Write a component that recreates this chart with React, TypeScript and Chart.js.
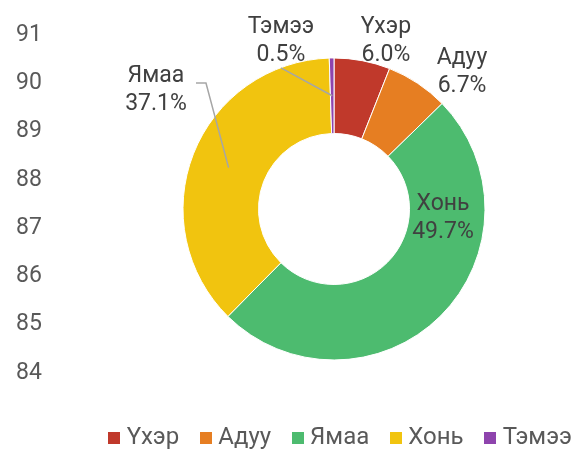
import React, { useEffect, useRef } from "react";
import { Chart, registerables } from "chart.js";

Chart.register(...registerables);

// ---- data ----
const categories = ["Үхэр", "Адуу", "Ямаа", "Хонь", "Тэмээ"];
const shares = [6.0, 6.7, 49.7, 37.1, 0.5];
const sliceNames = ["Үхэр", "Адуу", "Хонь", "Ямаа", "Тэмээ"];
const yTicks = [84, 85, 86, 87, 88, 89, 90, 91];
const colors = ["#C0392B", "#E67E22", "#4DBB6F", "#F1C40F", "#8E44AD"];

// ---- label placement (outer-radius units from the doughnut centre; leader points in px from label centre) ----
const labelLayout: { dx: number; dy: number; leader: number[][] | null }[] = [
  { dx: 0.344, dy: -1.136, leader: null },
  { dx: 0.848, dy: -0.934, leader: null },
  { dx: 0.722, dy: 0.036, leader: null },
  { dx: -1.179, dy: -0.815, leader: [[40, -3], [50, -3]] },
  { dx: -0.351, dy: -1.136, leader: [[0, 30.5]] },
];

const FONT = "Roboto";
const TEXT_SHIFT = 4;

function square(color: string) {
  const c = document.createElement("canvas");
  c.width = 12;
  c.height = 12;
  const g = c.getContext("2d")!;
  g.fillStyle = color;
  g.fillRect(0, 0, 12, 12);
  return c;
}

const sliceLabels = {
  id: "sliceLabels",
  afterDatasetsDraw(chart: any) {
    const ctx = chart.ctx;
    const meta = chart.getDatasetMeta(0);
    meta.data.forEach((arc: any, i: number) => {
      const { x, y, outerRadius } = arc.getProps(["x", "y", "outerRadius"], true);
      const lay = labelLayout[i];
      const cx = x + lay.dx * outerRadius;
      const cy = y + lay.dy * outerRadius;
      if (lay.leader) {
        const c = arc.getCenterPoint(true);
        ctx.save();
        ctx.strokeStyle = "#A6A6A6";
        ctx.lineWidth = 1.5;
        ctx.beginPath();
        lay.leader.forEach(([ox, oy], k) => {
          if (k === 0) ctx.moveTo(cx + ox, cy + oy);
          else ctx.lineTo(cx + ox, cy + oy);
        });
        ctx.lineTo(c.x, c.y);
        ctx.stroke();
        ctx.restore();
      }
      ctx.save();
      ctx.font = `23px ${FONT}`;
      ctx.fillStyle = "#404040";
      ctx.textAlign = "center";
      ctx.textBaseline = "middle";
      ctx.fillText(sliceNames[i], cx, cy - 14 + TEXT_SHIFT);
      ctx.fillText(shares[i].toFixed(1) + "%", cx, cy + 14 + TEXT_SHIFT);
      ctx.restore();
    });
  },
};

export default function App() {
  const ref = useRef<HTMLCanvasElement | null>(null);

  useEffect(() => {
    if (!ref.current) return;
    Chart.defaults.font.family = FONT;
    const chart = new Chart(ref.current, {
      type: "doughnut",
      data: {
        labels: categories,
        datasets: [
          {
            data: shares,
            backgroundColor: colors,
            borderColor: "#ffffff",
            borderWidth: 1,
            radius: 151,
            cutout: "50%",
          } as any,
        ],
      },
      options: {
        responsive: false,
        animation: false,
        layout: { padding: { left: 16, top: 18, right: -10, bottom: -11 } },
        scales: {
          y: {
            type: "linear",
            position: "left",
            min: 83.441,
            max: 91.352,
            grid: { display: false },
            border: { display: false },
            ticks: {
              font: { size: 23, family: FONT },
              color: "#595959",
              crossAlign: "far",
              padding: 0,
            },
            afterBuildTicks: (s: any) => {
              s.ticks = yTicks.map((v) => ({ value: v }));
            },
            afterFit: (s: any) => {
              s.width = 64;
              s.paddingTop = 0;
              s.paddingBottom = 0;
            },
          } as any,
        },
        plugins: {
          legend: {
            position: "bottom",
            align: "end",
            labels: {
              font: { size: 24, family: FONT },
              color: "#595959",
              usePointStyle: true,
              pointStyleWidth: 1,
              padding: 26,
              generateLabels: (ch: any) => {
                const base = (Chart as any).overrides.doughnut.plugins.legend.labels.generateLabels(ch);
                return base.map((it: any) => ({ ...it, pointStyle: square(it.fillStyle) }));
              },
            },
          },
          tooltip: { enabled: false },
        },
      } as any,
      plugins: [sliceLabels],
    });
    return () => chart.destroy();
  }, []);

  return (
    <div style={{ position: "fixed", left: 0, top: 0, width: 588, height: 449, background: "#fff" }}>
      <canvas ref={ref} width={588} height={449} style={{ display: "block" }} />
    </div>
  );
}
